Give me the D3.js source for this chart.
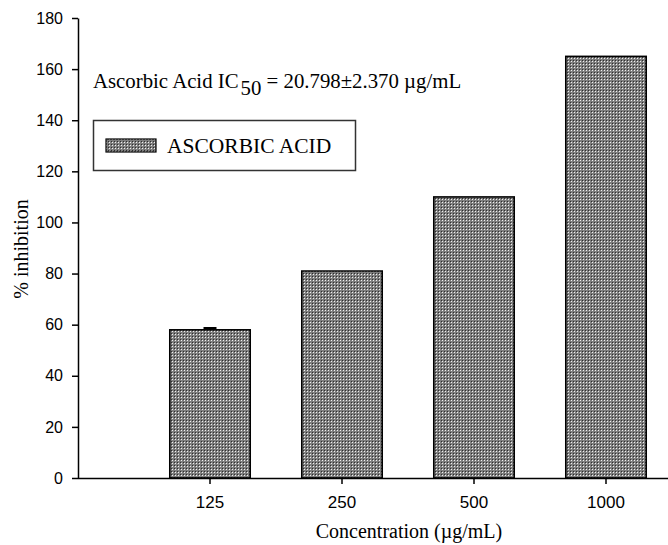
<!DOCTYPE html>
<html>
<head>
<meta charset="utf-8">
<script src="https://cdn.jsdelivr.net/npm/d3@7"></script>
<style>
  html, body { margin: 0; padding: 0; background: #fff; }
  svg { display: block; }
</style>
</head>
<body>
<script>
// Concentrations tested and the mean % inhibition for each
const concentrations = ["125", "250", "500", "1000"];
const inhibition = [58, 81, 110, 165];
const inhibitionErr = [0.7, 0, 0, 0];
const yTicks = [0, 20, 40, 60, 80, 100, 120, 140, 160, 180];
const seriesName = "ASCORBIC ACID";

const W = 668, H = 545;
const plotLeft = 78, plotRight = 672, plotTop = 18, plotBottom = 478;

const svg = d3.select("body").append("svg")
  .attr("width", W).attr("height", H);

// Stipple fill used by the bars and legend swatch
const defs = svg.append("defs");
const pat = defs.append("pattern")
  .attr("id", "stipple")
  .attr("patternUnits", "userSpaceOnUse")
  .attr("width", 3).attr("height", 3);
pat.append("rect").attr("width", 3).attr("height", 3).attr("fill", "#7e7e7e");
pat.append("rect").attr("x", 1).attr("y", 1).attr("width", 1).attr("height", 1).attr("fill", "#f0f0f0");
pat.append("rect").attr("x", 0).attr("y", 0).attr("width", 1).attr("height", 1).attr("fill", "#2e2e2e");

const y = d3.scaleLinear().domain([0, 180]).range([plotBottom, plotTop]);
const x = d3.scaleBand().domain(concentrations)
  .range([plotLeft + 66, plotRight]).paddingInner(0.39).paddingOuter(0.195);

// Bars
svg.append("g").selectAll("rect").data(concentrations).join("rect")
  .attr("x", d => x(d))
  .attr("y", (d, i) => y(inhibition[i]))
  .attr("width", x.bandwidth())
  .attr("height", (d, i) => y(0) - y(inhibition[i]))
  .attr("fill", "url(#stipple)")
  .attr("stroke", "#000")
  .attr("stroke-width", 1.5);

// Error caps
const errData = concentrations.map((c, i) => ({c, v: inhibition[i], e: inhibitionErr[i]})).filter(d => d.e > 0);
const eg = svg.append("g").attr("stroke", "#000").attr("stroke-width", 2);
errData.forEach(d => {
  const cx = x(d.c) + x.bandwidth() / 2;
  eg.append("line").attr("x1", cx).attr("x2", cx).attr("y1", y(d.v)).attr("y2", y(d.v + d.e));
  eg.append("line").attr("x1", cx - 6.5).attr("x2", cx + 6.5).attr("y1", y(d.v + d.e)).attr("y2", y(d.v + d.e));
});

// Y axis
const yAxis = svg.append("g").attr("transform", `translate(${plotLeft},0)`)
  .call(d3.axisLeft(y).tickValues(yTicks).tickSize(6).tickPadding(9).tickSizeOuter(0));
yAxis.select(".domain").attr("stroke", "#000").attr("stroke-width", 1.5);
yAxis.selectAll(".tick line").attr("stroke", "#000").attr("stroke-width", 1.5);
yAxis.selectAll(".tick text")
  .attr("font-family", "'Liberation Sans', Arial, sans-serif")
  .attr("font-size", 16).attr("fill", "#000");

// X axis
const xAxis = svg.append("g").attr("transform", `translate(0,${plotBottom})`)
  .call(d3.axisBottom(x).tickSize(6).tickPadding(12).tickSizeOuter(0));
xAxis.select(".domain").attr("d", `M${plotLeft},0.5H${plotRight}`).attr("stroke", "#000").attr("stroke-width", 1.5);
xAxis.selectAll(".tick line").attr("stroke", "#000").attr("stroke-width", 1.5);
xAxis.selectAll(".tick text")
  .attr("font-family", "'Liberation Sans', Arial, sans-serif")
  .attr("font-size", 17).attr("fill", "#000");

const serif = "'Liberation Serif', 'Times New Roman', serif";

// Axis titles
svg.append("text")
  .attr("x", 409).attr("y", 538)
  .attr("text-anchor", "middle")
  .attr("font-family", serif).attr("font-size", 20)
  .text("Concentration (µg/mL)");

svg.append("text")
  .attr("transform", "translate(28,249) rotate(-90)")
  .attr("text-anchor", "middle")
  .attr("font-family", serif).attr("font-size", 20)
  .text("% inhibition");

// IC50 annotation
const ann = svg.append("text")
  .attr("x", 93).attr("y", 88)
  .attr("font-family", serif).attr("font-size", 20.8);
ann.append("tspan").text("Ascorbic Acid IC");
ann.append("tspan").attr("dy", 7).attr("dx", 2).text("50");
ann.append("tspan").attr("dy", -7).text(" = 20.798±2.370 µg/mL");

// Legend
svg.append("rect")
  .attr("x", 93.5).attr("y", 120.5).attr("width", 262).attr("height", 50)
  .attr("fill", "none").attr("stroke", "#333").attr("stroke-width", 1.5);
svg.append("rect")
  .attr("x", 106).attr("y", 139).attr("width", 50).attr("height", 13)
  .attr("fill", "url(#stipple)").attr("stroke", "#000").attr("stroke-width", 1.2);
svg.append("text")
  .attr("x", 167).attr("y", 153)
  .attr("font-family", serif).attr("font-size", 21.5)
  .text(seriesName);
</script>
</body>
</html>
